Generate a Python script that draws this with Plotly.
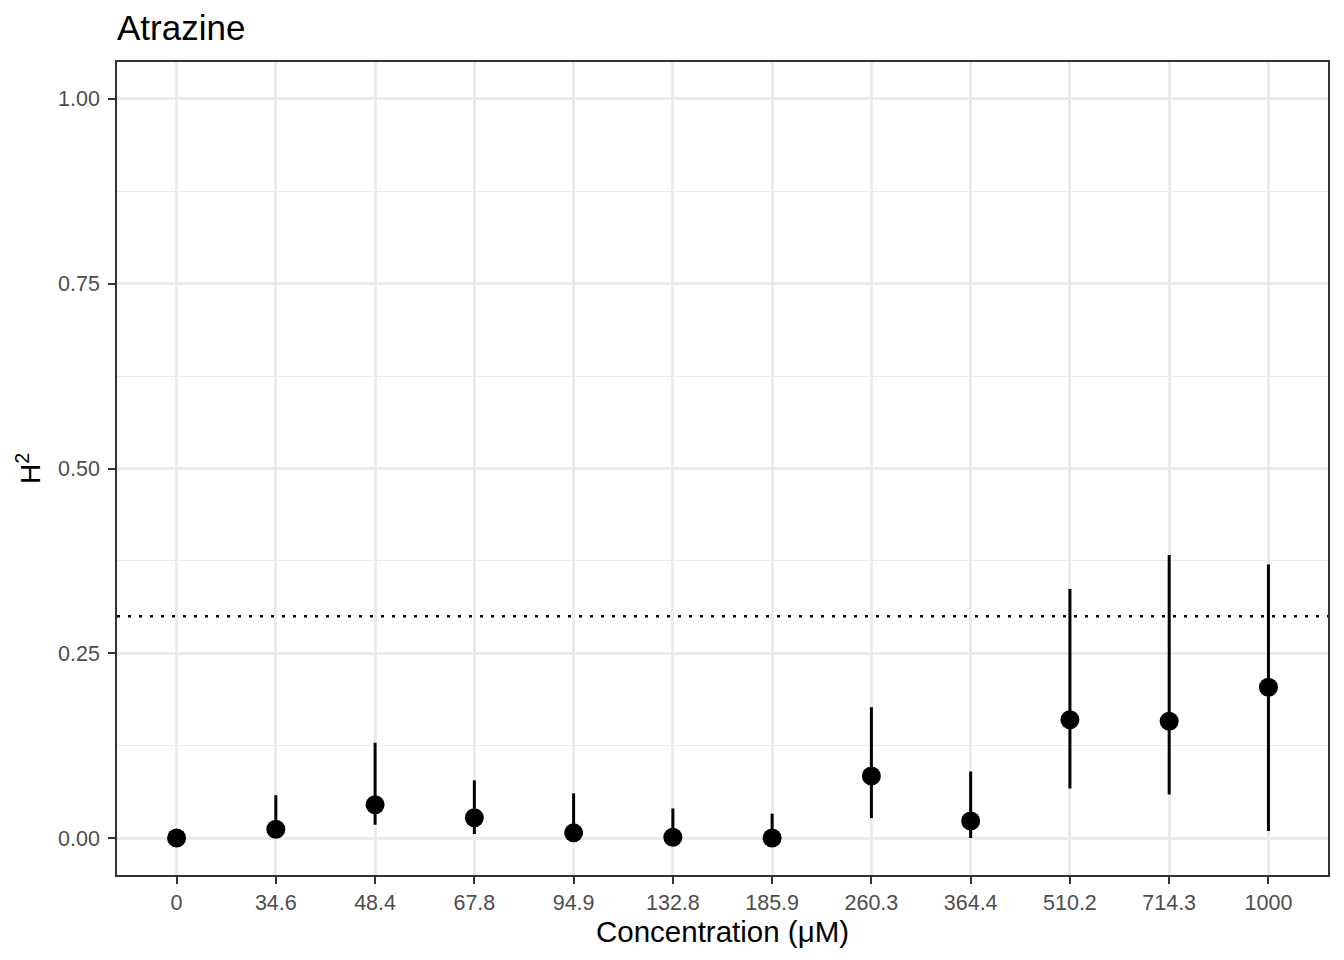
import plotly.graph_objects as go

# heritability estimates per atrazine concentration
concentration = ["0", "34.6", "48.4", "67.8", "94.9", "132.8", "185.9",
                 "260.3", "364.4", "510.2", "714.3", "1000"]
h2 = [0.0, 0.012, 0.045, 0.0275, 0.007, 0.001, 0.0, 0.084, 0.023, 0.160, 0.158, 0.204]
h2_upper = [0.0, 0.058, 0.129, 0.078, 0.0605, 0.040, 0.033, 0.177, 0.090, 0.337, 0.383, 0.370]
h2_lower = [0.0, 0.0, 0.018, 0.0055, 0.0, 0.0, 0.0, 0.027, 0.0, 0.067, 0.059, 0.0095]
threshold = 0.3
y_ticks = [0.0, 0.25, 0.5, 0.75, 1.0]
y_tick_labels = ["0.00", "0.25", "0.50", "0.75", "1.00"]

err_plus = [u - v for u, v in zip(h2_upper, h2)]
err_minus = [v - l for v, l in zip(h2, h2_lower)]

# page body has an 8px margin, so the figure is sized 8px smaller
W, H = 1336, 952

fig = go.Figure()
fig.add_trace(go.Scatter(
    x=concentration, y=h2, mode="markers",
    marker=dict(color="black", size=19),
    error_y=dict(type="data", array=err_plus, arrayminus=err_minus,
                 color="black", thickness=3, width=0),
    showlegend=False,
))

# dotted reference line across the whole panel
fig.add_shape(type="line", xref="paper", x0=0, x1=1, yref="y", y0=threshold, y1=threshold,
              line=dict(color="black", width=2.5, dash="3px,8px"))

axis_common = dict(
    showline=True, mirror=True, linecolor="#333333", linewidth=1.5,
    ticks="outside", ticklen=7, tickwidth=1.5, tickcolor="#333333",
    tickfont=dict(size=21.5, color="#4D4D4D"),
    showgrid=True, gridcolor="#EBEBEB", gridwidth=2.6, zeroline=False,
)

fig.update_layout(
    width=W, height=H,
    paper_bgcolor="white", plot_bgcolor="white",
    font=dict(family="Liberation Sans, Arial, sans-serif", color="black"),
    margin=dict(l=109, r=16, t=54, b=85),
    title=dict(text="Atrazine", x=109 / W, xref="container", xanchor="left",
               y=1 - 20 / H, yref="container", yanchor="middle",
               font=dict(size=35, color="black")),
    xaxis=dict(axis_common, type="category", categoryorder="array",
               categoryarray=concentration, range=[-0.6, 11.6],
               title=dict(text="Concentration (μM)", font=dict(size=29.5), standoff=6)),
    yaxis=dict(axis_common, range=[-0.05, 1.05], tickvals=y_ticks, ticktext=y_tick_labels,
               ticklabelstandoff=4,
               minor=dict(dtick=0.125, tick0=0.125, showgrid=True, gridcolor="#EBEBEB",
                          gridwidth=1.3, ticks=""),
               title=dict(text="H<sup>2</sup>", font=dict(size=28), standoff=9)),
)

fig.write_html("out.html")
